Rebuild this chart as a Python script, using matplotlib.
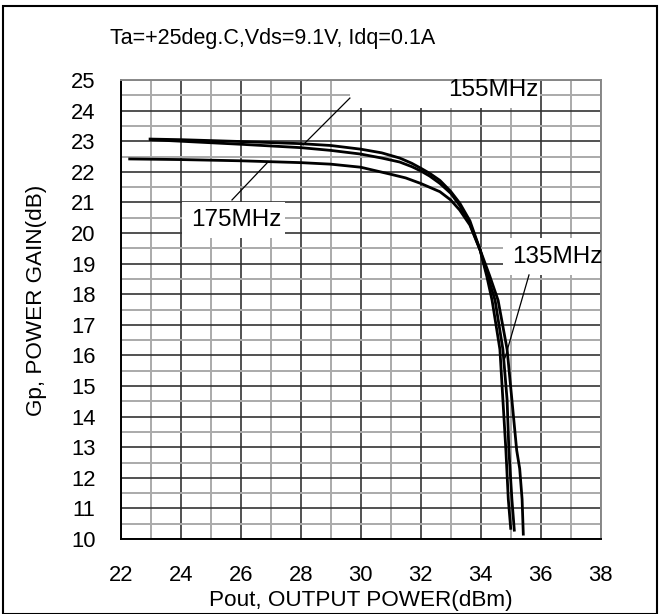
import matplotlib.pyplot as plt
from matplotlib.patches import Rectangle
from matplotlib.ticker import MultipleLocator

plt.rcParams['font.family'] = ['Liberation Sans', 'DejaVu Sans']

# Pout (dBm) / Gp (dB)
pout_155 = [22.98, 24.0, 26.0, 28.0, 29.0, 30.0, 30.7, 31.3, 31.7, 32.0, 32.3,
            32.64, 33.0, 33.3, 33.64, 33.98, 34.2, 34.48, 34.74, 34.88, 34.94,
            35.04, 35.12]
gain_155 = [23.07, 23.05, 22.99, 22.92, 22.86, 22.74, 22.62, 22.45, 22.28,
            22.12, 21.95, 21.72, 21.36, 20.98, 20.40, 19.45, 18.7, 17.8, 16.2,
            14.55, 12.9, 11.3, 10.29]

pout_135 = [23.0, 24.0, 26.0, 28.0, 29.0, 30.0, 30.7, 31.3, 31.7, 32.0, 32.3,
            32.64, 33.0, 33.3, 33.64, 33.98, 34.3, 34.58, 34.88, 35.04, 35.2,
            35.3, 35.38, 35.42]
gain_135 = [23.05, 23.0, 22.9, 22.79, 22.7, 22.58, 22.45, 22.32, 22.17,
            22.03, 21.86, 21.62, 21.30, 20.90, 20.30, 19.45, 18.6, 17.8, 16.2,
            14.55, 12.9, 12.3, 11.3, 10.16]

pout_175 = [22.3, 24.0, 26.0, 28.0, 29.0, 30.0, 31.0, 31.5, 32.0, 32.64,
            33.0, 33.3, 33.64, 33.98, 34.2, 34.38, 34.64, 34.74, 34.84, 34.92,
            35.0]
gain_175 = [22.42, 22.40, 22.36, 22.30, 22.25, 22.15, 21.92, 21.80, 21.62,
            21.35, 21.08, 20.75, 20.26, 19.44, 18.6, 17.8, 16.2, 14.55, 12.9,
            11.3, 10.35]

x_ticks = list(range(22, 39, 2))
y_ticks = list(range(10, 26))

fig = plt.figure(figsize=(6.62, 6.14), dpi=100)
ax = fig.add_axes([0.1823, 0.1221, 0.7251, 0.7476])

ax.set_xlim(22, 38)
ax.set_ylim(10, 25)
ax.set_xticks(x_ticks)
ax.set_yticks(y_ticks)
ax.xaxis.set_minor_locator(MultipleLocator(1))
ax.yaxis.set_minor_locator(MultipleLocator(0.5))
ax.tick_params(which='both', length=0, labelsize=15.8)
ax.tick_params(axis='x', pad=19)
ax.tick_params(axis='y', pad=18)

ax.grid(which='major', color='#333333', linewidth=1.2, zorder=0)
ax.grid(which='minor', color='#aaaaaa', linewidth=1.4, zorder=0)
ax.set_axisbelow(True)
for side in ('left', 'bottom'):
    ax.spines[side].set_color('black')
    ax.spines[side].set_linewidth(1.4)
for side in ('top', 'right'):
    ax.spines[side].set_color('#888888')
    ax.spines[side].set_linewidth(1.4)

for px, gy in ((pout_155, gain_155), (pout_135, gain_135), (pout_175, gain_175)):
    ax.plot(px, gy, color='black', linewidth=2.0, solid_joinstyle='round',
            zorder=3)

# label boxes hide the grid behind them
boxes = [
    (29.64, 24.08, 6.34, 1.35, '155MHz', 34.41, 24.67,
     (28.08, 22.88), (29.64, 24.41)),
    (24.05, 19.84, 3.43, 1.17, '175MHz', 25.84, 20.42,
     (25.71, 21.08), (26.88, 22.29)),
    (34.74, 18.63, 3.3, 1.21, '135MHz', 36.54, 19.22,
     (35.61, 18.63), (34.81, 15.92)),
]
for bx, by, bw, bh, txt, tx, ty, p0, p1 in boxes:
    ax.add_patch(Rectangle((bx, by), bw, bh, facecolor='white',
                           edgecolor='none', zorder=2, clip_on=False))
    ax.text(tx, ty, txt, fontsize=17.5, ha='center', va='center', zorder=4)
    ax.plot([p0[0], p1[0]], [p0[1], p1[1]], color='black', linewidth=0.9,
            zorder=4)

ax.set_xlabel('Pout, OUTPUT POWER(dBm)', fontsize=16.2)
ax.xaxis.set_label_coords(0.5, -0.11)
ax.set_ylabel('Gp, POWER GAIN(dB)', fontsize=16.2)
ax.yaxis.set_label_coords(-0.153, 0.52)

fig.text(0.166, 0.9365, 'Ta=+25deg.C,Vds=9.1V, Idq=0.1A', fontsize=15.5,
         ha='left', va='center')

fig.patches.append(Rectangle((0.005, 0.0), 0.987, 0.99,
                             transform=fig.transFigure, fill=False,
                             edgecolor='black', linewidth=1.5))

fig.savefig('out.png', dpi=100)
